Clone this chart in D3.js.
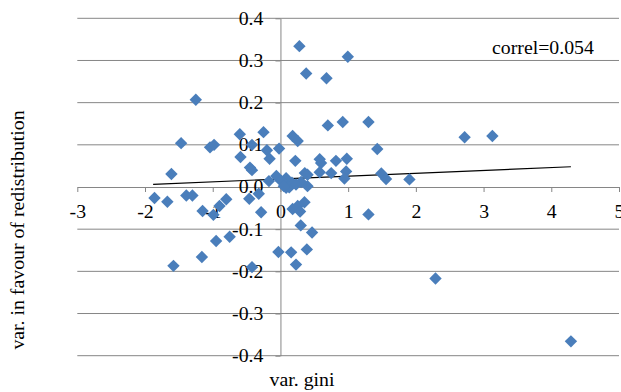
<!DOCTYPE html>
<html>
<head>
<meta charset="utf-8">
<script src="https://cdn.jsdelivr.net/npm/d3@7"></script>
<style>
  body { margin: 0; background: #fff; }
  svg text { font-family: "Liberation Serif", "DejaVu Serif", serif; fill: #000; }
</style>
</head>
<body>
<svg id="chart" width="621" height="392"></svg>
<script>
// var. gini (x) / var. in favour of redistribution (y)
var giniVar = [
  0.28, 0.995, 0.38, 0.68, -1.25, 0.70, 0.92, 1.30, 2.72, 3.13,
  1.43, -1.467, -1.04, -0.98, -0.60, -0.42, -0.25, -0.20, -0.16, -0.02,
  0.18, 0.255, -0.59, -0.45, -0.42, 0.22, 0.58, 0.60, 0.82, 0.98,
  0.58, 0.75, 0.97, 0.945, 1.49, 1.56, 1.905, -1.61, 0.36, 0.40,
  0.305, 0.40, -0.17, -0.06, 0.084, 0.084, 0.17, 0.01, 0.13, 0.23,
  0.05, -1.86, -1.67, -1.39, -1.30, -1.15, -0.99, -0.90, -0.80, -0.46,
  -0.32, -0.285, 0.18, 0.255, 0.355, 0.29, 0.30, 0.467, -0.03, 0.158,
  0.39, 0.23, -0.42, -0.95, -0.75, -1.16, -1.58, 1.30, 2.29, 4.29
];
var redistVar = [
  0.334, 0.309, 0.269, 0.258, 0.207, 0.146, 0.154, 0.154, 0.118, 0.121,
  0.090, 0.104, 0.094, 0.100, 0.125, 0.100, 0.130, 0.087, 0.067, 0.091,
  0.121, 0.109, 0.071, 0.046, 0.040, 0.062, 0.066, 0.057, 0.062, 0.067,
  0.035, 0.033, 0.037, 0.020, 0.032, 0.019, 0.018, 0.031, 0.033, 0.029,
  0.012, 0.002, 0.014, 0.026, 0.021, -0.002, 0.010, 0.014, -0.001, 0.006,
  0.002, -0.026, -0.035, -0.020, -0.020, -0.057, -0.066, -0.045, -0.029, -0.028,
  -0.016, -0.060, -0.052, -0.045, -0.036, -0.058, -0.091, -0.108, -0.154, -0.155,
  -0.148, -0.184, -0.190, -0.128, -0.118, -0.166, -0.187, -0.065, -0.217, -0.366
];
// linear trend endpoints as drawn
var trendX = [-1.88, 4.29];
var trendY = [0.0064, 0.048];

var xTicks = [-3, -2, -1, 0, 1, 2, 3, 4, 5];
var yTicks = [-0.4, -0.3, -0.2, -0.1, 0, 0.1, 0.2, 0.3, 0.4];
var correlLabel = "correl=0.054";

var svg = d3.select("#chart");
var serif = "'Liberation Serif', 'DejaVu Serif', serif";

var x = d3.scaleLinear().domain([-3, 5]).range([77.3, 619]);
var y = d3.scaleLinear().domain([-0.4, 0.4]).range([355.7, 18.3]);

// horizontal gridlines
svg.append("g")
  .selectAll("line")
  .data(yTicks.filter(function(d) { return d !== 0; }))
  .join("line")
    .attr("x1", x(-3)).attr("x2", x(5))
    .attr("y1", function(d) { return y(d); })
    .attr("y2", function(d) { return y(d); })
    .attr("stroke", "#868686")
    .attr("stroke-width", 1);

// x axis through y = 0
var gx = svg.append("g")
  .attr("transform", "translate(0," + y(0) + ")")
  .call(d3.axisBottom(x).tickValues(xTicks).tickFormat(function(d) { return String(d); }).tickSize(5).tickSizeOuter(0))
  .attr("font-family", serif).attr("font-size", 18);
gx.select(".domain").attr("stroke", "#868686");
gx.selectAll(".tick line").attr("stroke", "#868686");
gx.selectAll(".tick text").attr("y", 25.5).attr("dy", "0.33em");

// y axis through x = 0
var gy = svg.append("g")
  .attr("transform", "translate(" + x(0) + ",0)")
  .call(d3.axisLeft(y).tickValues(yTicks).tickFormat(function(d) { return d.toFixed(1); }).tickSize(5).tickSizeOuter(0))
  .attr("font-family", serif).attr("font-size", 18);
gy.select(".domain").attr("stroke", "#868686");
gy.selectAll(".tick line").attr("stroke", "#868686");
gy.selectAll(".tick text").attr("x", -17).attr("dy", "0.33em");

// trend line
svg.append("path")
  .datum(d3.zip(trendX, trendY))
  .attr("fill", "none")
  .attr("stroke", "#000")
  .attr("stroke-width", 1.2)
  .attr("d", d3.line().x(function(d) { return x(d[0]); }).y(function(d) { return y(d[1]); }));

// diamonds
var pts = d3.zip(giniVar, redistVar);
svg.append("g")
  .selectAll("path")
  .data(pts)
  .join("path")
    .attr("transform", function(d) { return "translate(" + x(d[0]) + "," + y(d[1]) + ")"; })
    .attr("d", "M0,-6.2L6.2,0L0,6.2L-6.2,0Z")
    .attr("fill", "#4a7ebb");

// texts
svg.append("text")
  .attr("x", 492).attr("y", 54)
  .attr("font-size", 18)
  .text(correlLabel);

svg.append("text")
  .attr("x", 302).attr("y", 386)
  .attr("text-anchor", "middle")
  .attr("font-size", 18)
  .text("var. gini");

svg.append("text")
  .attr("transform", "translate(24,230) rotate(-90)")
  .attr("text-anchor", "middle")
  .attr("font-size", 18)
  .text("var. in favour of redistribution");

// the original picture is a little stretched sideways: widen glyphs to match
svg.selectAll("text").each(function() {
  var w = this.getComputedTextLength();
  d3.select(this).attr("textLength", w * 1.1).attr("lengthAdjust", "spacingAndGlyphs");
});
</script>
</body>
</html>
